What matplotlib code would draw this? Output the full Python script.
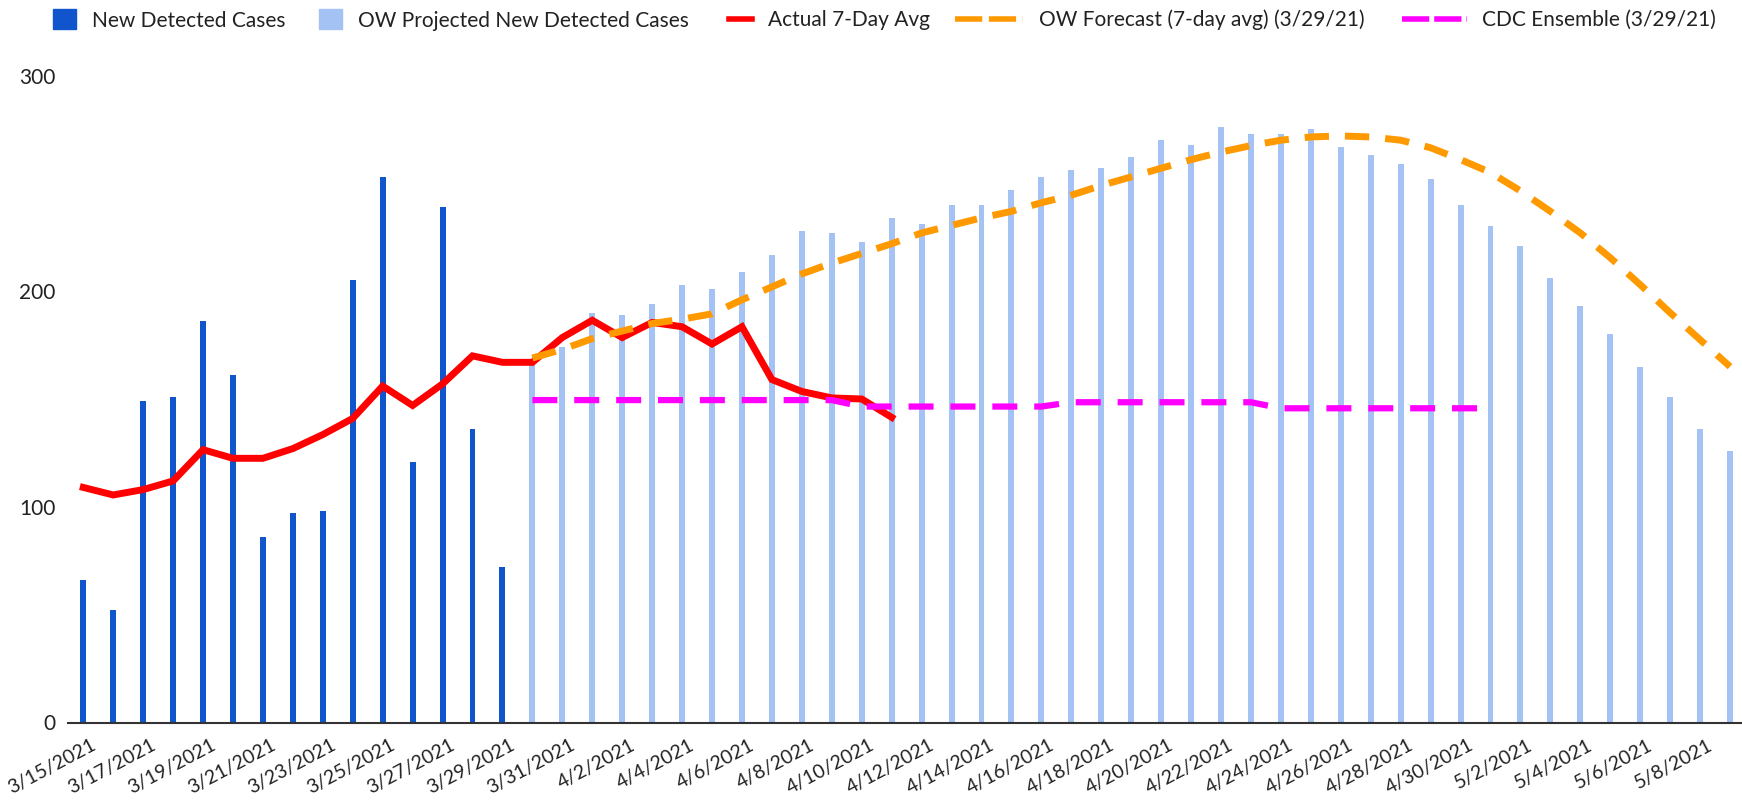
import matplotlib
matplotlib.use("Agg")
import matplotlib.pyplot as plt
import numpy as np
import pandas as pd
from matplotlib.lines import Line2D
from matplotlib.patches import Patch
from matplotlib.transforms import ScaledTranslation

plt.rcParams["font.family"] = ["Lato", "DejaVu Sans"]

W, H = 1742, 807

# --- data -------------------------------------------------------------
dates = pd.date_range("2021-03-15", "2021-05-09", freq="D")
date_labels = [f"{d.month}/{d.day}/{d.year}" for d in dates]

new_cases = [66, 52, 149, 151, 186, 161, 86, 97, 98, 205, 253, 121, 239, 136, 72]  # 3/15 - 3/29

projected = [168, 174, 190, 189, 194, 203, 201, 209, 217, 228, 227, 223, 234, 231,
             240, 240, 247, 253, 256, 257, 262, 270, 268, 276, 273, 273, 275, 267,
             263, 259, 252, 240, 230, 221, 206, 193, 180, 165, 151, 136, 126]  # 3/30 - 5/9

actual_avg = [109, 105.5, 108, 112, 126.5, 122.5, 122.5, 127, 133.5, 141, 156, 147,
              157, 170, 167, 167, 178.5, 186.5, 178.5, 185.5, 183.5, 175.5, 183.5,
              159, 153.5, 150.5, 150, 141.5]  # 3/15 - 4/11

ow_forecast = [169, 173, 178, 181.5, 185, 187, 189.5, 196, 202, 208, 213, 217.5, 222,
               227, 230.5, 234, 237, 241, 244.5, 249, 253, 257, 261, 264.5, 267.5, 270,
               271.5, 272, 271.5, 270, 266.5, 261, 255, 246.5, 237, 227, 215.5, 203,
               190, 177.5, 165]  # 3/30 - 5/9

cdc_ensemble = [149.5, 149.5, 149.5, 149.5, 149.5, 149.5, 149.5, 149.5, 149.5, 149.5, 149.5,
                146.5, 146.5, 146.5, 146.5, 146.5, 146.5, 146.5,
                148.5, 148.5, 148.5, 148.5, 148.5, 148.5, 148.5,
                145.7, 145.7, 145.7, 145.7, 145.7, 145.7, 145.7, 145.7]  # 3/30 - 5/1

C_DARK = "#1155cc"
C_LIGHT = "#a4c2f4"
C_RED = "#ff0000"
C_ORANGE = "#ff9900"
C_MAGENTA = "#ff00ff"

# --- figure -----------------------------------------------------------
fig = plt.figure(figsize=(W / 100, H / 100), dpi=100)
ax = fig.add_axes([68 / W, 1 - 722.5 / H, (W - 68) / W, (722.5 - 75.5) / H])

x = np.arange(len(dates))
n_new = len(new_cases)
x_new = x[:n_new]
x_proj = x[n_new:n_new + len(projected)]
x_act = x[:len(actual_avg)]
x_fc = x[n_new:n_new + len(ow_forecast)]
x_cdc = x[n_new:n_new + len(cdc_ensemble)]

ax.bar(x_new, new_cases, width=0.2, color=C_DARK, zorder=2)
ax.bar(x_proj, projected, width=0.2, color=C_LIGHT, zorder=2)
ax.plot(x_act, actual_avg, color=C_RED, lw=5, solid_joinstyle="miter", zorder=3)
ax.plot(x_fc, ow_forecast, color=C_ORANGE, lw=5, dashes=(3.5, 2.3), zorder=4)
ax.plot(x_cdc, cdc_ensemble, color=C_MAGENTA, lw=4.5, dashes=(4.0, 2.7), zorder=5)

ax.set_xlim(-0.51, 55.4)
ax.set_ylim(0, 300)
ax.set_yticks([0, 100, 200, 300])
ax.tick_params(axis="y", length=0, pad=9, labelsize=15, labelcolor="#222222")
ax.set_xticks(x[::2])
ax.set_xticklabels(date_labels[::2], rotation=28, ha="right", va="baseline",
                   rotation_mode="anchor", fontsize=14, color="#222222")
ax.tick_params(axis="x", length=0, pad=19)
shift = ScaledTranslation(14 / 100, 0, fig.dpi_scale_trans)
for lab in ax.get_xticklabels():
    lab.set_transform(lab.get_transform() + shift)
for s in ("top", "right", "left"):
    ax.spines[s].set_visible(False)
ax.spines["bottom"].set_color("#333333")
ax.spines["bottom"].set_linewidth(1.5)

# --- legend (one entry per box so each handle can have its own length) --
items = [
    (Patch(color=C_DARK), "New Detected Cases", 53, 1.1, 1.1),
    (Patch(color=C_LIGHT), "OW Projected New Detected Cases", 319, 1.1, 1.1),
    (Line2D([], [], color=C_RED, lw=4), "Actual 7-Day Avg", 729, 1.1, 0.7),
    (Line2D([], [], color=C_ORANGE, lw=4, dashes=(4.9, 1.2)), "OW Forecast (7-day avg) (3/29/21)", 955, 3.25, 0.7),
    (Line2D([], [], color=C_MAGENTA, lw=4, dashes=(4.9, 0.9)), "CDC Ensemble (3/29/21)", 1402, 3.1, 0.7),
]
for handle, label, left_px, hlen, hheight in items:
    fig.legend([handle], [label], loc="center left", bbox_to_anchor=(left_px / W, 1 - 20 / H),
               frameon=False, borderpad=0, borderaxespad=0, handlelength=hlen,
               handleheight=hheight, handletextpad=0.76, fontsize=15, labelcolor="#222222")

fig.savefig("out.png", dpi=100)
